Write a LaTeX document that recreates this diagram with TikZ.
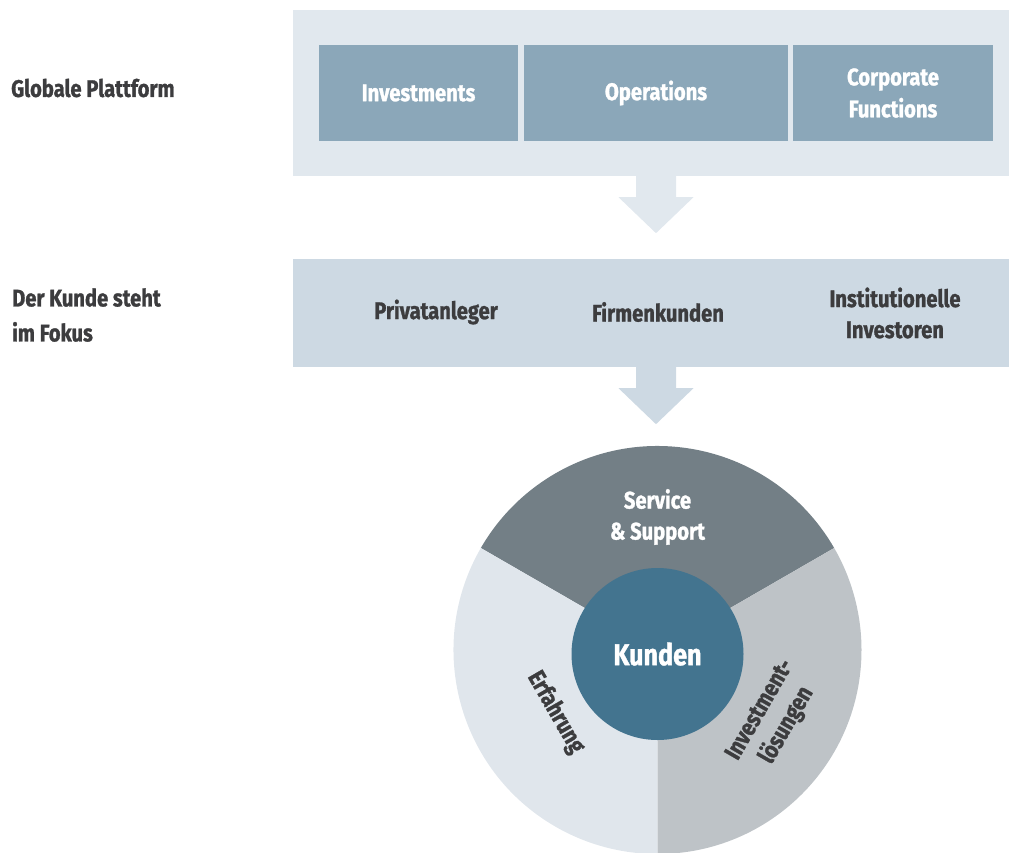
\documentclass[tikz,border=0pt]{standalone}
\usepackage{fontspec}
\setmainfont{Fira Sans}[FakeStretch=0.84,BoldFeatures={FakeBold=1.2}]
\definecolor{platbg}{HTML}{E1E8EE}
\definecolor{unitfill}{HTML}{8BA7B9}
\definecolor{kundbg}{HTML}{CDD9E3}
\definecolor{textdark}{HTML}{3C3C3E}
\definecolor{segtop}{HTML}{737F86}
\definecolor{segleft}{HTML}{E0E6EC}
\definecolor{segright}{HTML}{BEC3C7}
\definecolor{kernfill}{HTML}{43748F}
\tikzset{
  panel/.style={inner sep=0,minimum width=716},
  unitbox/.style={fill=unitfill,text=white,minimum height=96,inner sep=0,align=center,
    font=\bfseries\fontsize{24}{32}\selectfont},
  grouplabel/.style={text=textdark,align=left,anchor=west,inner sep=0,
    font=\bfseries\fontsize{24}{35}\selectfont},
  seglabel/.style={text=textdark,align=center,inner sep=0,
    font=\bfseries\fontsize{24}{31}\selectfont}
}
\newcommand\blockarrow[2]{\fill[#2] (#1) +(-20,0) -- +(-20,21) -- +(-37.5,21) -- +(0,57)
  -- +(37.5,21) -- +(20,21) -- +(20,0) -- cycle;}
\begin{document}
\begin{tikzpicture}[x=1pt,y=-1pt]
\useasboundingbox (0,0) rectangle (1009,852);
%globale plattform
\node[panel,fill=platbg,minimum height=166] (plat) at (651,93) {};
\node[unitbox,minimum width=199] (inv) at (418.5,93) {Investments};
\node[unitbox,minimum width=264] (ops) at (656,93) {Operations};
\node[unitbox,minimum width=200] (corp) at (893,93) {Corporate\\Functions};
\coordinate (arr1) at (plat.south -| ops);
\blockarrow{arr1}{platbg}
%kunden
\node[panel,fill=kundbg,minimum height=108] (kund) at (651,313) {};
\node[seglabel] (priv) at (436,312) {Privatanleger};
\node[seglabel] (firm) at (658,312) {Firmenkunden};
\node[seglabel] (inst) at (895,313) {Institutionelle\\Investoren};
\coordinate (arr2) at (kund.south -| ops);
\blockarrow{arr2}{kundbg}
\node[grouplabel] (glob) at (11,88) {Globale Plattform};
\node[grouplabel] (fokus) at (12,315) {Der Kunde steht\\im Fokus};
%circle
\coordinate (mid) at (657.5,650);
\fill[segtop] (mid) -- +(-30:204) arc[start angle=-30,end angle=-150,radius=204] -- cycle;
\fill[segleft] (mid) -- +(-150:204) arc[start angle=-150,end angle=-270,radius=204] -- cycle;
\fill[segright] (mid) -- +(90:204) arc[start angle=90,end angle=-30,radius=204] -- cycle;
\node[circle,fill=kernfill,minimum size=172,inner sep=0,text=white,
  font=\bfseries\fontsize{30}{34}\selectfont] (kern) at (657.5,654) {Kunden};
\node[seglabel,text=white] (serv) at (657.5,517) {Service\\\& Support};
\node[seglabel,rotate=-60] (erf) at (555.5,712.5) {Erfahrung};
\node[seglabel,rotate=60] (loes) at (774,718) {Investment-\\lösungen};
\end{tikzpicture}
\end{document}
